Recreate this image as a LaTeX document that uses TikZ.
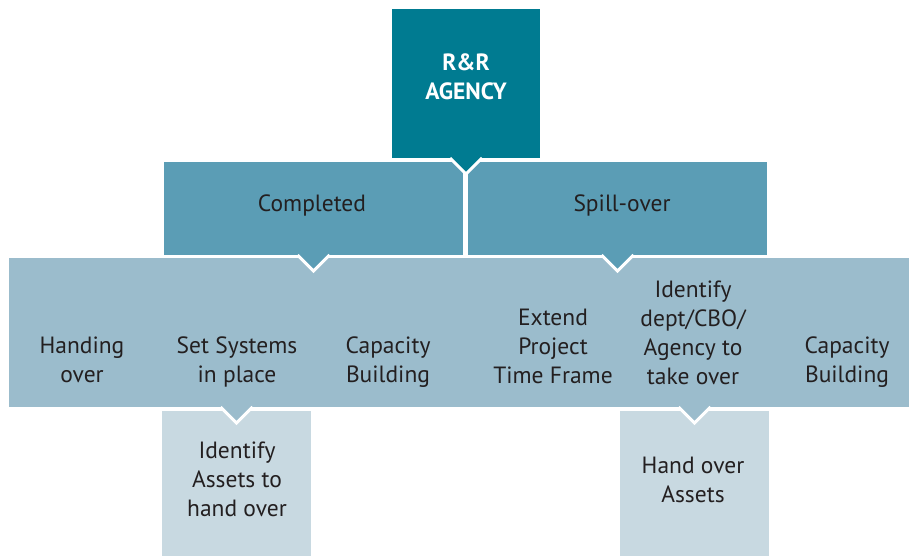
\documentclass[tikz,border=0pt]{standalone}
\usepackage{fontspec}
\setsansfont{PT Sans}
\usetikzlibrary{calc}

\definecolor{agencyteal}{RGB}{0,123,145}
\definecolor{midblue}{RGB}{91,157,181}
\definecolor{barblue}{RGB}{155,188,204}
\definecolor{paleblue}{RGB}{200,217,225}
\definecolor{textgrey}{RGB}{35,31,32}

\tikzset{
  box/.style={fill=#1,inner sep=0pt,outer sep=0pt,anchor=north west},
  lbl/.style={font=\sffamily\fontsize{23.5}{29}\selectfont,text=textgrey,align=center},
  notchline/.style={draw=white,line width=3pt,line join=miter},
}

\begin{document}
\begin{tikzpicture}[x=1pt,y=-1pt]
  \useasboundingbox (0,0) rectangle (909,556);
  % boxes
  \node[box=agencyteal,minimum width=148pt,minimum height=149pt] (agency) at (392,9) {};
  \node[box=midblue,minimum width=299pt,minimum height=93pt] (completed) at (164,162) {};
  \node[box=midblue,minimum width=299pt,minimum height=93pt] (spill) at (468,162) {};
  \node[box=barblue,minimum width=900pt,minimum height=149pt] (bar) at (9,258) {};
  \node[box=paleblue,minimum width=149pt,minimum height=145pt] (assets) at (162,411) {};
  \node[box=paleblue,minimum width=149pt,minimum height=145pt] (handover) at (620,411) {};
  \coordinate (barl) at (assets.north |- bar.south);
  \coordinate (barr) at (handover.north |- bar.south);
  % pointers
  \foreach \pt/\col in {agency.south/agencyteal,completed.south/midblue,spill.south/midblue,barl/barblue,barr/barblue}{
    \fill[\col] ([xshift=-16pt]\pt) -- ([yshift=-16pt]\pt) -- ([xshift=16pt]\pt) -- cycle;
    \draw[notchline] ([xshift=-16pt]\pt) -- ([yshift=-16pt]\pt) -- ([xshift=16pt]\pt);
  }
  % labels
  \node[lbl,font=\sffamily\bfseries\fontsize{23.5}{29}\selectfont,text=white] (agencylbl) at (466,77) {R\&R\\AGENCY};
  \node[lbl] (completedlbl) at (312,205) {Completed};
  \node[lbl] (spilllbl) at (622,205) {Spill-over};
  \node[lbl] (handing) at (82,360) {Handing\\over};
  \node[lbl] (setsys) at (237,362) {Set Systems\\in place};
  \node[lbl] (capleft) at (388,362) {Capacity\\Building};
  \node[lbl] (extend) at (553,346) {Extend\\Project\\Time Frame};
  \node[lbl] (identify) at (693,333) {Identify\\dept/CBO/\\Agency to\\take over};
  \node[lbl] (capright) at (847,362) {Capacity\\Building};
  \node[lbl] (idassets) at (237,479) {Identify\\Assets to\\hand over};
  \node[lbl] (handassets) at (693,480) {Hand over\\Assets};
\end{tikzpicture}
\end{document}
